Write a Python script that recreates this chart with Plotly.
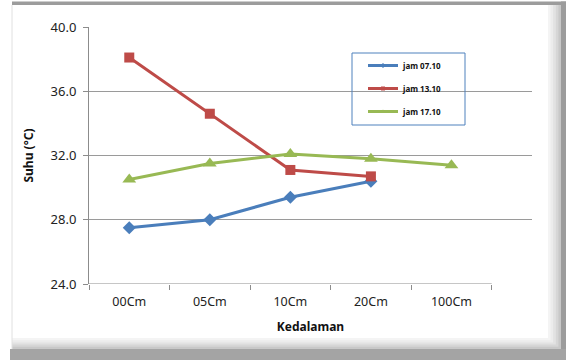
import plotly.graph_objects as go

# Soil temperature by depth at three times of day
depths = ["00Cm", "05Cm", "10Cm", "20Cm", "100Cm"]
jam_0710 = [27.5, 28.0, 29.4, 30.4, None]
jam_1310 = [38.1, 34.6, 31.1, 30.7, None]
jam_1710 = [30.5, 31.5, 32.1, 31.8, 31.4]
series_names = ["jam 07.10", "jam 13.10", "jam 17.10"]
y_ticks = [24.0, 28.0, 32.0, 36.0, 40.0]

colors = ["#4A7EBB", "#BE4B48", "#98B954"]
symbols = ["diamond", "square", "triangle-up"]
sizes = [10, 10, 12]

W, H = 566, 360
L, R, T, B = 89, 34, 27, 76
PW, PH = W - L - R, H - T - B


def px(x):
    return (x - L) / PW


def py(y):
    return (H - B - y) / PH


fig = go.Figure()

for vals, name, c, s, sz in zip([jam_0710, jam_1310, jam_1710], series_names, colors, symbols, sizes):
    fig.add_trace(go.Scatter(
        x=depths, y=vals, mode="lines+markers", name=name,
        line=dict(color=c, width=3),
        marker=dict(symbol=s, size=sz, color=c),
        showlegend=False, cliponaxis=False,
    ))

# legend entries with small marker glyphs
for i, (name, c, s) in enumerate(zip(series_names, colors, symbols)):
    fig.add_trace(go.Scatter(
        x=[None], y=[None], mode="lines+markers", name=f"<b>{name}</b>",
        line=dict(color=c, width=3),
        marker=dict(symbol=s, size=4, color=c),
        legendgroup=f"g{i}", showlegend=True,
    ))

shapes = []
# category axis line spanning the five categories only
shapes.append(dict(type="line", xref="x", yref="y", x0=-0.5, x1=len(depths) - 0.5,
                   y0=24, y1=24, line=dict(color="#8c8c8c", width=1)))
# legend box
shapes.append(dict(type="rect", xref="paper", yref="paper",
                   x0=px(352), x1=px(465), y0=py(125), y1=py(53),
                   line=dict(color="#4F81BD", width=1), fillcolor="rgba(0,0,0,0)"))

# outer frame with bevelled edges
grays = ["#f4f4f4", "#ececec", "#e2e2e2", "#d6d6d6", "#c8c8c8"]
for k, g in enumerate(grays):
    shapes.append(dict(type="rect", xref="paper", yref="paper", layer="below",
                       x0=px(548 + k * 2.6), x1=px(561), y0=py(349), y1=py(5),
                       line=dict(width=0), fillcolor=g))
    shapes.append(dict(type="rect", xref="paper", yref="paper", layer="below",
                       x0=px(12), x1=px(561), y0=py(349), y1=py(338 + k * 2.2),
                       line=dict(width=0), fillcolor=g))
shapes.append(dict(type="rect", xref="paper", yref="paper",
                   x0=px(12), x1=px(566), y0=py(5), y1=py(1.5),
                   line=dict(width=0), fillcolor="#9c9c9c"))
shapes.append(dict(type="rect", xref="paper", yref="paper",
                   x0=px(561), x1=px(566), y0=py(360), y1=py(1.5),
                   line=dict(width=0), fillcolor="#9c9c9c"))
shapes.append(dict(type="rect", xref="paper", yref="paper",
                   x0=px(10), x1=px(566), y0=py(360), y1=py(349),
                   line=dict(width=0), fillcolor="#a4a4a4"))
shapes.append(dict(type="line", xref="paper", yref="paper",
                   x0=px(12), x1=px(12), y0=py(349), y1=py(5),
                   line=dict(color="#e0e0e0", width=1)))

fig.update_layout(
    width=W, height=H,
    margin=dict(l=L, r=R, t=T, b=B),
    paper_bgcolor="white", plot_bgcolor="white",
    font=dict(family="Noto Sans", color="#222222"),
    shapes=shapes,
    showlegend=True,
    legend=dict(
        x=px(363), y=py(51), xanchor="left", yanchor="top",
        bgcolor="rgba(0,0,0,0)", borderwidth=0,
        font=dict(size=8, color="#111111", family="Noto Sans"),
        tracegroupgap=4, itemwidth=30,
    ),
    xaxis=dict(
        type="category", range=[-0.5, len(depths)],
        showgrid=False, showline=False, zeroline=False,
        ticks="outside", tickson="boundaries", ticklen=5, tickcolor="#8c8c8c",
        tickfont=dict(size=12.5, color="#222222"), ticklabelstandoff=8,
        title=dict(text="<b>Kedalaman</b>", font=dict(size=12, color="#111111"), standoff=14),
    ),
    yaxis=dict(
        range=[24, 40], tickvals=y_ticks, ticktext=[f"{v:.1f}" for v in y_ticks],
        showgrid=True, gridcolor="#9a9a9a", gridwidth=1,
        showline=True, linecolor="#8c8c8c", linewidth=1, zeroline=False,
        ticks="outside", ticklen=5, tickcolor="#8c8c8c",
        tickfont=dict(size=13, color="#222222"), ticklabelstandoff=4,
        title=dict(text="<b>Suhu (°C)</b>", font=dict(size=12, color="#111111"), standoff=14),
    ),
)

fig.write_html("out.html")
